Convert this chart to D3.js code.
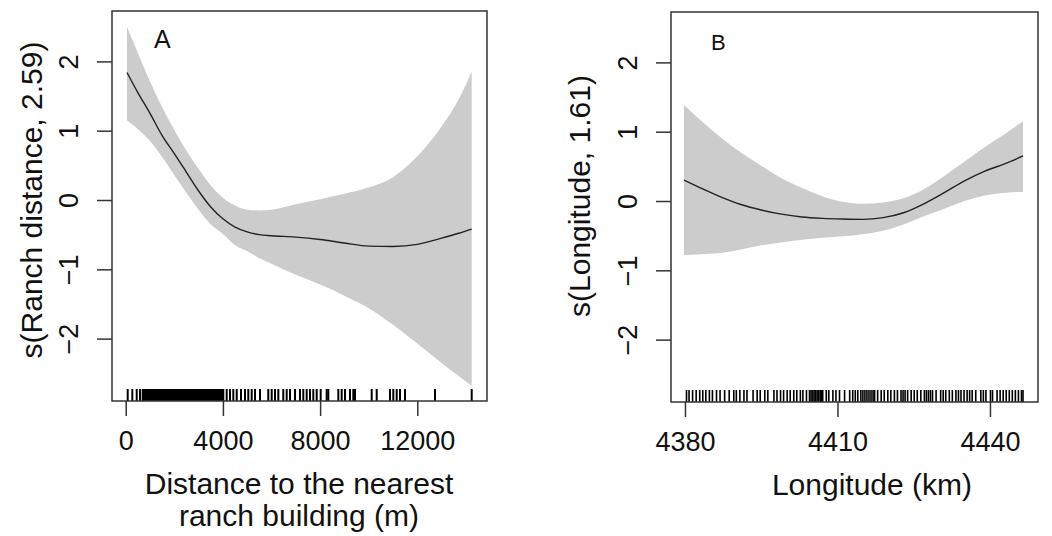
<!DOCTYPE html>
<html>
<head>
<meta charset="utf-8">
<script src="https://cdn.jsdelivr.net/npm/d3@7"></script>
<style>
  html, body { margin: 0; padding: 0; background: #fff; }
  svg { display: block; font-family: "Liberation Sans", Arial, sans-serif; }
</style>
</head>
<body>
<svg id="chart" width="1052" height="536"></svg>
<script>
// ---- panel A: distance to nearest ranch building ----
const ranchGrid  = [53, 500, 1000, 1500, 2000, 2500, 3000, 3500, 4000, 4500, 5000, 5500, 6000, 7000, 8000, 9000, 10000, 11000, 12000, 13000, 13700, 14238];
const ranchFit   = [1.84, 1.55, 1.25, 0.93, 0.67, 0.40, 0.13, -0.10, -0.27, -0.39, -0.46, -0.50, -0.515, -0.535, -0.57, -0.62, -0.665, -0.67, -0.64, -0.55, -0.48, -0.42];
const ranchUpper = [2.50, 2.12, 1.71, 1.34, 1.01, 0.71, 0.45, 0.21, 0.03, -0.08, -0.14, -0.15, -0.14, -0.06, 0.01, 0.09, 0.18, 0.33, 0.63, 1.06, 1.45, 1.85];
const ranchLower = [1.15, 1.02, 0.85, 0.62, 0.36, 0.10, -0.14, -0.35, -0.49, -0.65, -0.74, -0.84, -0.92, -1.08, -1.22, -1.38, -1.56, -1.80, -2.07, -2.35, -2.54, -2.68];
const ranchRug = [82, 272, 453, 588, 700, 731, 768, 802, 845, 880, 915, 958, 990, 1030, 1066, 1102, 1140, 1175, 1213, 1250,
  1288, 1322, 1361, 1398, 1433, 1470, 1508, 1545, 1580, 1618, 1655, 1690, 1728, 1766, 1801, 1840, 1877, 1912, 1950, 1988,
  2022, 2060, 2098, 2133, 2171, 2208, 2245, 2280, 2318, 2355, 2392, 2428, 2466, 2503, 2540, 2577, 2613, 2650, 2688, 2725,
  2760, 2798, 2835, 2872, 2908, 2946, 2983, 3020, 3057, 3094, 3130, 3168, 3205, 3242, 3278, 3316, 3353, 3390, 3426, 3463,
  3500, 3538, 3575, 3612, 3648, 3686, 3723, 3760, 3796, 3833, 3870, 3908, 3945, 3982, 4016, 4156, 4292, 4428, 4568, 4745,
  4909, 5045, 5185, 5321, 5527, 5868, 6008, 6144, 6280, 6485, 6625, 6761, 6967, 7172, 7308, 7448, 7584, 7720, 7860, 8024,
  8271, 8337, 8749, 8888, 9024, 9230, 9366, 9436, 10123, 10329, 10876, 11012, 11152, 11287, 11493, 12728, 14238];
const ranchTicks = [0, 4000, 8000, 12000];

// ---- panel B: longitude ----
const lonGrid  = [4379.8, 4383, 4387, 4391, 4395, 4399, 4403, 4407, 4411, 4415, 4419, 4423, 4427, 4431, 4435, 4439, 4443, 4446.5];
const lonFit   = [0.30, 0.19, 0.06, -0.05, -0.13, -0.19, -0.23, -0.25, -0.26, -0.265, -0.24, -0.17, -0.04, 0.12, 0.29, 0.43, 0.54, 0.65];
const lonUpper = [1.38, 1.17, 0.92, 0.70, 0.51, 0.33, 0.19, 0.07, -0.01, -0.04, -0.02, 0.04, 0.17, 0.36, 0.57, 0.78, 0.97, 1.15];
const lonLower = [-0.78, -0.77, -0.75, -0.70, -0.64, -0.60, -0.56, -0.53, -0.51, -0.48, -0.43, -0.34, -0.22, -0.11, 0.00, 0.08, 0.12, 0.13];
const lonRug = [4380.3, 4380.8, 4381.5, 4382.2, 4382.9, 4383.5, 4384.1, 4384.8, 4385.4, 4386.2, 4386.9, 4387.8, 4388.7,
  4389.6, 4390.1, 4390.8, 4391.6, 4392.2, 4393.4, 4394.2, 4394.8, 4395.7, 4396.3, 4397.5, 4398.1, 4398.8, 4399.4, 4400.1,
  4400.7, 4401.4, 4402.0, 4402.7, 4403.2, 4403.9, 4404.5, 4404.8, 4405.1, 4405.4, 4405.7, 4406.0, 4406.3, 4406.6, 4406.9,
  4407.1, 4407.8, 4408.3, 4409.1, 4409.7, 4410.4, 4411.4, 4412.4, 4413.0, 4413.5, 4414.0, 4414.6, 4415.0, 4415.4, 4415.8,
  4416.2, 4416.6, 4417.0, 4417.3, 4417.9, 4418.6, 4419.2, 4419.9, 4420.5, 4421.2, 4421.8, 4422.5, 4422.9, 4423.3, 4423.8,
  4424.5, 4425.1, 4425.7, 4426.4, 4427.1, 4427.5, 4427.9, 4428.3, 4428.7, 4429.4, 4430.3, 4430.8, 4431.3, 4432.0, 4432.6,
  4433.3, 4433.8, 4434.3, 4434.9, 4435.5, 4436.0, 4436.5, 4437.2, 4438.2, 4438.7, 4439.2, 4440.1, 4440.5, 4441.4, 4442.0,
  4442.6, 4443.2, 4443.8, 4444.4, 4445.0, 4445.6, 4446.2, 4446.5];
const lonTicks = [4380, 4410, 4440];

const yTicks = [-2, -1, 0, 1, 2];

const PANELS = [
    {
        letter: 'A', letterX: 154, letterY: 48, letterSize: 25, rugWidth: 2,
        box: {left: 112, right: 487, top: 11, bottom: 401},
        xDomain: [-564, 14868],
        grid: ranchGrid, fit: ranchFit, upper: ranchUpper, lower: ranchLower, rug: ranchRug, xTicks: ranchTicks,
        yTitle: 's(Ranch distance, 2.59)', yTitleX: 42, yTitleY: 200,
        xTitle: ['Distance to the nearest', 'ranch building (m)'], xTitleX: 299, xTitleY: [494, 526]
    },
    {
        letter: 'B', letterX: 711, letterY: 50, letterSize: 22, rugWidth: 1.6,
        box: {left: 671, right: 1038, top: 12, bottom: 402},
        xDomain: [4377.25, 4449.45],
        grid: lonGrid, fit: lonFit, upper: lonUpper, lower: lonLower, rug: lonRug, xTicks: lonTicks,
        yTitle: 's(Longitude, 1.61)', yTitleX: 590, yTitleY: 196,
        xTitle: ['Longitude (km)'], xTitleX: 872, xTitleY: [495]
    }
];

const STYLE = {
    band: '#cccccc',
    line: '#222222',
    ink: '#111111',
    frame: '#333333',
    tickSize: 15,
    rugHeight: 12,
    tickFont: 27,
    titleFont: 30
};

const svg = d3.select('#chart');

const drawPanel = (p) => {
    const xScale = d3.scaleLinear().domain(p.xDomain).range([p.box.left, p.box.right]);
    const yScale = d3.scaleLinear().domain([-2.9, 2.727]).range([p.box.bottom, p.box.top]);
    const g = svg.append('g');

    const band = d3.area()
        .x((d, i) => xScale(p.grid[i]))
        .y0((d, i) => yScale(p.lower[i]))
        .y1((d, i) => yScale(p.upper[i]))
        .curve(d3.curveMonotoneX);

    g.append('path')
        .attr('d', band(p.grid))
        .attr('fill', STYLE.band);

    const line = d3.line()
        .x((d, i) => xScale(p.grid[i]))
        .y((d) => yScale(d))
        .curve(d3.curveMonotoneX);

    g.append('path')
        .attr('d', line(p.fit))
        .attr('fill', 'none')
        .attr('stroke', STYLE.line)
        .attr('stroke-width', 1.4);

    // rug
    g.selectAll('line.rug').data(p.rug).enter().append('line')
        .attr('class', 'rug')
        .attr('x1', (d) => xScale(d))
        .attr('x2', (d) => xScale(d))
        .attr('y1', p.box.bottom - STYLE.rugHeight)
        .attr('y2', p.box.bottom)
        .attr('stroke', '#000')
        .attr('stroke-width', p.rugWidth);

    // frame
    g.append('rect')
        .attr('x', p.box.left)
        .attr('y', p.box.top)
        .attr('width', p.box.right - p.box.left)
        .attr('height', p.box.bottom - p.box.top)
        .attr('fill', 'none')
        .attr('stroke', STYLE.frame)
        .attr('stroke-width', 1.5);

    // axes
    const yAxis = d3.axisLeft(yScale).tickValues(yTicks).tickSize(STYLE.tickSize).tickFormat(d3.format('d'));
    const xAxis = d3.axisBottom(xScale).tickValues(p.xTicks).tickSize(STYLE.tickSize).tickFormat(d3.format('d'));

    const gy = g.append('g').attr('transform', `translate(${p.box.left},0)`).call(yAxis);
    gy.select('.domain').remove();
    gy.selectAll('.tick line').attr('stroke', STYLE.frame).attr('stroke-width', 1.5);
    gy.selectAll('.tick text')
        .attr('x', null).attr('dy', null)
        .attr('transform', 'translate(-34,0) rotate(-90)')
        .attr('text-anchor', 'middle')
        .attr('fill', STYLE.ink)
        .style('font-size', STYLE.tickFont + 'px')
        .style('font-family', '"Liberation Sans", Arial, sans-serif');

    const gx = g.append('g').attr('transform', `translate(0,${p.box.bottom})`).call(xAxis);
    gx.select('.domain').remove();
    gx.selectAll('.tick line').attr('stroke', STYLE.frame).attr('stroke-width', 1.5);
    gx.selectAll('.tick text')
        .attr('y', 49).attr('dy', null)
        .attr('fill', STYLE.ink)
        .style('font-size', STYLE.tickFont + 'px')
        .style('font-family', '"Liberation Sans", Arial, sans-serif');

    // titles
    g.append('text')
        .attr('transform', `translate(${p.yTitleX},${p.yTitleY}) rotate(-90)`)
        .attr('text-anchor', 'middle')
        .attr('fill', STYLE.ink)
        .style('font-size', STYLE.titleFont + 'px')
        .text(p.yTitle);

    p.xTitle.forEach((t, i) => {
        g.append('text')
            .attr('x', p.xTitleX)
            .attr('y', p.xTitleY[i])
            .attr('text-anchor', 'middle')
            .attr('fill', STYLE.ink)
            .style('font-size', STYLE.titleFont + 'px')
            .text(t);
    });

    g.append('text')
        .attr('x', p.letterX)
        .attr('y', p.letterY)
        .attr('fill', STYLE.ink)
        .style('font-size', p.letterSize + 'px')
        .style('font-weight', 500)
        .text(p.letter);
};

PANELS.forEach(drawPanel);
</script>
</body>
</html>
